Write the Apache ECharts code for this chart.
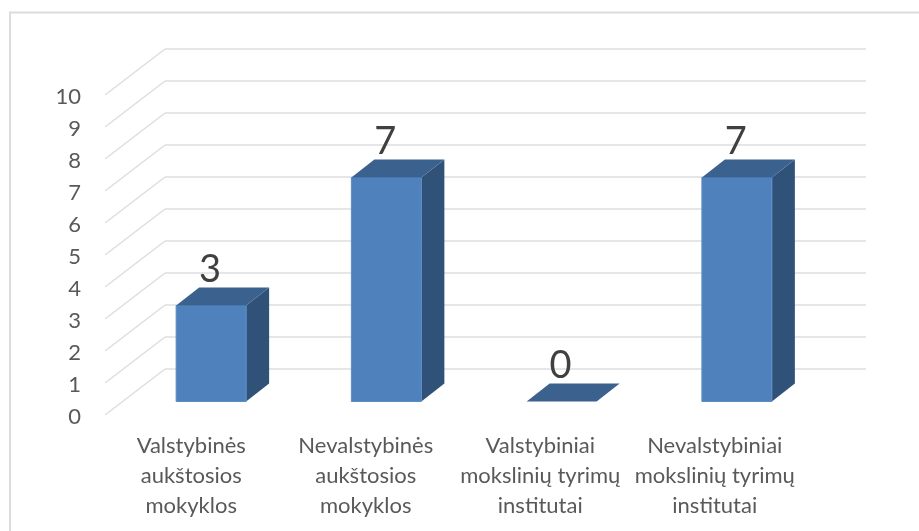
<!DOCTYPE html>
<html><head><meta charset="utf-8">
<style>html,body{margin:0;padding:0;background:#fff}#c{width:919px;height:531px}</style>
<script src="https://cdn.jsdelivr.net/npm/echarts@6/dist/echarts.min.js"></script>
</head><body><div id="c"></div>
<script>
const categories = ['Valstybinės\naukštosios\nmokyklos','Nevalstybinės\naukštosios\nmokyklos','Valstybiniai\nmokslinių tyrimų\ninstitutai','Nevalstybiniai\nmokslinių tyrimų\ninstitutai'];
const values = [3,7,0,7];
const ticks = [0,1,2,3,4,5,6,7,8,9,10];

const FONT = 'Lato, "Noto Sans", sans-serif';
const WALL = {dx:60, dy:-46};          // front plane -> back wall
const BAR = {ox:18.5, oy:-13.5, w:70, dx:23, dy:-18}; // bar placement inside the depth

const chart = echarts.init(document.getElementById('c'), null, {renderer:'canvas'});
chart.setOption({
  animation:false,
  backgroundColor:'#fff',
  graphic:[{type:'polyline',silent:true,shape:{points:[[10,531],[10,12.5],[919,12.5]]},style:{fill:null,stroke:'#dcdcdc',lineWidth:2}}],
  grid:[
    {left:105,top:95,width:701,height:320},   // front plane: tick labels and bars
    {left:165,top:49,width:701,height:320},   // back wall: gridlines
    {left:104,top:95,width:698,height:320}    // category labels
  ],
  xAxis:[
    {gridIndex:0,type:'category',data:categories,axisLine:{show:false},axisTick:{show:false},axisLabel:{show:false}},
    {gridIndex:1,type:'category',data:categories,show:false},
    {gridIndex:2,type:'category',data:categories,axisLine:{show:false},axisTick:{show:false},
     axisLabel:{interval:0,margin:16,color:'#595959',fontFamily:FONT,fontSize:22,lineHeight:30}}
  ],
  yAxis:[
    {gridIndex:0,type:'value',min:0,max:10,interval:1,axisLine:{show:false},axisTick:{show:false},splitLine:{show:false},
     axisLabel:{margin:24,formatter:'{t|{value}}',rich:{t:{color:'#595959',fontFamily:FONT,fontSize:22,padding:[3,0,0,0]}}}},
    {gridIndex:1,type:'value',min:0,max:10,interval:1,axisLine:{show:false},axisTick:{show:false},axisLabel:{show:false},
     splitLine:{show:true,lineStyle:{color:'#dedede',width:1.5}}},
    {gridIndex:2,type:'value',min:0,max:10,interval:1,show:false}
  ],
  series:[
    {type:'custom',name:'floorLines',xAxisIndex:0,yAxisIndex:0,silent:true,z:1,
     data:ticks.map(t=>[0,t]),
     renderItem(params,api){
       const p=api.coord([0,api.value(1)]);
       const x=params.coordSys.x;
       return {type:'line',shape:{x1:x,y1:p[1],x2:x+WALL.dx,y2:p[1]+WALL.dy},
               style:{stroke:'#dedede',lineWidth:1.5,fill:null}};
     }},
    {type:'custom',name:'bars',xAxisIndex:0,yAxisIndex:0,silent:true,z:3,
     encode:{x:0,y:1},
     data:values.map((v,i)=>[i,v]),
     renderItem(params,api){
       const top=api.coord([api.value(0),api.value(1)]);
       const base=api.coord([api.value(0),0]);
       const xl=top[0]+BAR.ox-BAR.w/2, xr=xl+BAR.w;
       const yt=top[1]+BAR.oy, yb=base[1]+BAR.oy;
       const d=BAR.dx, e=BAR.dy;
       const kids=[];
       if(yb-yt>0){
         kids.push({type:'polygon',shape:{points:[[xr,yt],[xr+d,yt+e],[xr+d,yb+e],[xr,yb]]},style:{fill:'#305279'}});
         kids.push({type:'rect',shape:{x:xl,y:yt,width:BAR.w,height:yb-yt},style:{fill:'#4F81BD',stroke:'#5C8CC6',lineWidth:1}});
       }
       kids.push({type:'polygon',shape:{points:[[xl,yt],[xl+d,yt+e],[xr+d,yt+e],[xr,yt]]},style:{fill:'#3B618F'}});
       kids.push({type:'text',style:{text:String(api.value(1)),x:xl+BAR.w/2+d/2-12.5,y:yt+e-17.5,align:'center',verticalAlign:'middle',
         fill:'#404040',font:'38px '+FONT}});
       return {type:'group',children:kids};
     }}
  ]
});
</script></body></html>
